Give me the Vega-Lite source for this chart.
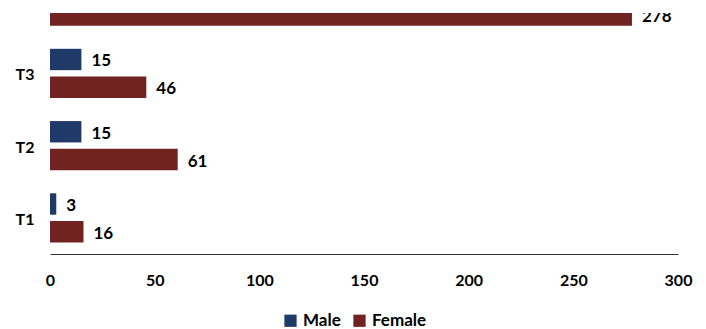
{
  "$schema": "https://vega.github.io/schema/vega-lite/v6.json",
  "width": 628,
  "height": 241,
  "autosize": "none",
  "padding": {"left": 50, "top": 13, "right": 28, "bottom": 75},
  "background": "white",
  "config": {
    "font": "Lato",
    "view": {"stroke": null}
  },
  "data": {
    "values": [
      {"group": "T1", "sex": "Male", "count": 3},
      {"group": "T1", "sex": "Female", "count": 16},
      {"group": "T2", "sex": "Male", "count": 15},
      {"group": "T2", "sex": "Female", "count": 61},
      {"group": "T3", "sex": "Male", "count": 15},
      {"group": "T3", "sex": "Female", "count": 46},
      {"group": "T4", "sex": "Female", "count": 278}
    ]
  },
  "encoding": {
    "y": {
      "field": "group",
      "type": "nominal",
      "sort": ["T4", "T3", "T2", "T1"],
      "scale": {
        "domain": ["T4", "T3", "T2", "T1"],
        "range": [-48, 241],
        "paddingInner": 0.32,
        "paddingOuter": 0.16
      },
      "axis": {
        "title": null,
        "values": ["T1", "T2", "T3"],
        "domain": false,
        "ticks": false,
        "labelFont": "Lato",
        "labelFontWeight": "bold",
        "labelFontSize": 16,
        "labelColor": "black",
        "labelPadding": 16,
        "labelOffset": 2
      }
    },
    "yOffset": {
      "field": "sex",
      "type": "nominal",
      "scale": {"domain": ["Male", "Female"], "paddingInner": 0.23, "paddingOuter": 0}
    },
    "x": {
      "field": "count",
      "type": "quantitative",
      "scale": {"domain": [0, 300], "nice": false},
      "axis": {
        "title": null,
        "values": [0, 50, 100, 150, 200, 250, 300],
        "grid": false,
        "ticks": false,
        "domainColor": "#333333",
        "domainWidth": 1.2,
        "labelFont": "Lato",
        "labelFontWeight": "bold",
        "labelFontSize": 16,
        "labelColor": "black",
        "labelPadding": 18,
        "labelFlush": false
      }
    }
  },
  "layer": [
    {
      "mark": {"type": "bar", "clip": true},
      "encoding": {
        "color": {
          "field": "sex",
          "type": "nominal",
          "scale": {"domain": ["Male", "Female"], "range": ["#1f3a68", "#702320"]},
          "legend": {
            "title": null,
            "orient": "none",
            "legendX": 232,
            "legendY": 299,
            "direction": "horizontal",
            "symbolType": "square",
            "symbolSize": 150,
            "symbolStrokeWidth": 0,
            "labelFont": "Lato",
            "labelFontWeight": "bold",
            "labelFontSize": 17,
            "labelColor": "black",
            "columnPadding": 10,
            "labelOffset": 4
          }
        }
      }
    },
    {
      "mark": {
        "type": "text",
        "clip": true,
        "align": "left",
        "baseline": "middle",
        "dx": 10,
        "dy": 2,
        "font": "Lato",
        "fontWeight": "bold",
        "fontSize": 17,
        "color": "black"
      },
      "encoding": {
        "text": {"field": "count", "type": "quantitative"}
      }
    },
    {
      "mark": {"type": "rule", "color": "#333333", "strokeWidth": 1.2},
      "encoding": {"x": {"datum": 0}}
    }
  ]
}
